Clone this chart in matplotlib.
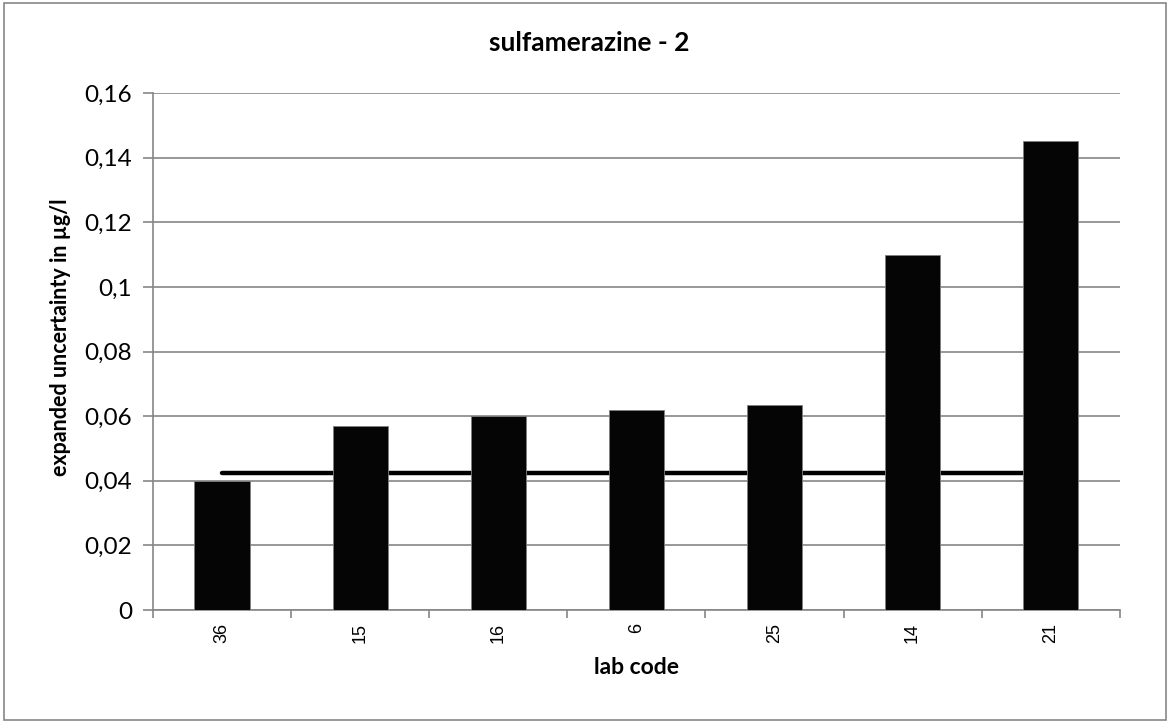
import matplotlib
matplotlib.use("Agg")
import matplotlib.pyplot as plt
import matplotlib.patches as mpatches
import numpy as np

# data
lab_codes = ["36", "15", "16", "6", "25", "14", "21"]
uncertainty = [0.040, 0.057, 0.060, 0.062, 0.0635, 0.110, 0.145]
reference_level = 0.0424

GRID = "#868686"

fig = plt.figure(figsize=(11.7, 7.22), dpi=100, facecolor="white")
ax = fig.add_axes([0.1308, 0.1551, 0.8262, 0.7161])

x = np.arange(len(lab_codes))
ax.bar(x, uncertainty, width=0.4, color="#050505", edgecolor="#7f7f7f",
       linewidth=0.6, zorder=3)
ax.plot([x[0], x[-1]], [reference_level, reference_level], color="black",
        linewidth=3.2, solid_capstyle="round", zorder=2)

ax.set_xlim(-0.5, len(lab_codes) - 0.5)
ax.set_ylim(0, 0.16)
yticks = np.arange(0, 0.161, 0.02)
ax.set_yticks(yticks)
ax.set_yticklabels(["0" if v == 0 else f"{v:.2f}".rstrip("0").replace(".", ",")
                    for v in yticks], fontfamily="Lato", fontsize=17.5)
ax.yaxis.grid(True, color=GRID, linewidth=1.2, zorder=0)
ax.set_axisbelow(True)

ax.set_xticks(x)
ax.set_xticklabels(lab_codes, rotation=90, fontfamily="Liberation Sans", fontsize=13)
ax.set_xticks(np.arange(-0.5, len(lab_codes)), minor=True)
ax.tick_params(axis="x", which="major", length=0, pad=9)
ax.tick_params(axis="x", which="minor", length=6, color=GRID, width=1.2)
ax.tick_params(axis="y", length=7, color=GRID, width=1.2, pad=8)

for side in ["top", "right"]:
    ax.spines[side].set_visible(False)
for side in ["left", "bottom"]:
    ax.spines[side].set_color(GRID)
    ax.spines[side].set_linewidth(1.2)

# title centred on the whole chart, as in the spreadsheet original
fig.text(0.504, 0.94, "sulfamerazine - 2", fontfamily="Lato", fontweight="bold",
         fontsize=19, ha="center", va="center")
ax.set_xlabel("lab code", fontfamily="Lato", fontweight="bold", fontsize=16.5, labelpad=10)
ax.set_ylabel("expanded uncertainty in µg/l", fontfamily="Lato", fontweight="bold",
              fontsize=15.5)
ax.yaxis.set_label_coords(-0.085, 0.527)

# outer chart border
fig.patches.append(mpatches.Rectangle((0.003, 0.003), 0.994, 0.993,
                                      transform=fig.transFigure, fill=False,
                                      edgecolor=GRID, linewidth=1.2))

fig.savefig("out.png", dpi=100, facecolor="white")
